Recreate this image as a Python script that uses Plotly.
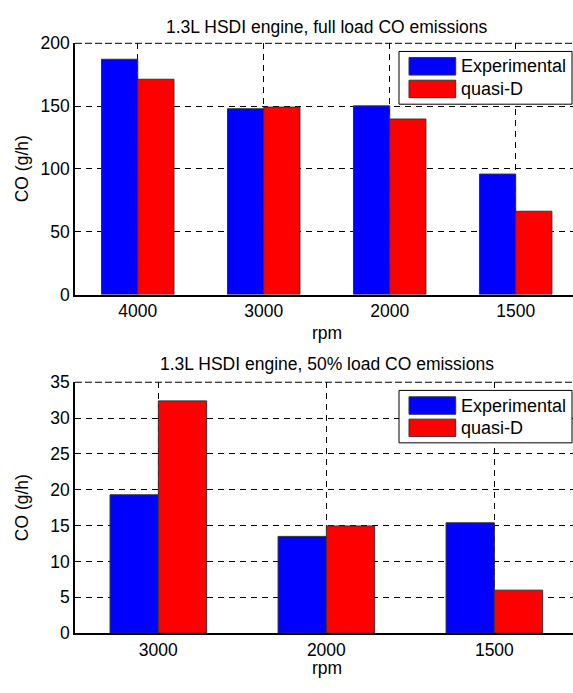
import plotly.graph_objects as go

# ---- data ----
rpm_full = ["4000", "3000", "2000", "1500"]
exp_full = [187.3, 147.9, 150.2, 95.9]
qd_full = [171.4, 149.2, 139.7, 66.3]

rpm_half = ["3000", "2000", "1500"]
exp_half = [19.3, 13.5, 15.4]
qd_half = [32.4, 14.95, 6.0]

series_names = ["Experimental", "quasi-D"]
titles = ["1.3L HSDI engine, full load CO emissions",
          "1.3L HSDI engine, 50% load CO emissions"]

W, H = 573, 693
BLUE, RED = "#0000FF", "#FF0000"
FONT = "Liberation Sans, Arial, sans-serif"
FS = 17.5


def px(x):
    return x / W


def py(y):
    return 1 - y / H


fig = go.Figure()
bar_line = dict(color="#333333", width=1)
fig.add_trace(go.Bar(x=rpm_full, y=exp_full, name=series_names[0], marker=dict(color=BLUE, line=bar_line),
                     xaxis="x", yaxis="y", showlegend=False))
fig.add_trace(go.Bar(x=rpm_full, y=qd_full, name=series_names[1], marker=dict(color=RED, line=bar_line),
                     xaxis="x", yaxis="y", showlegend=False))
fig.add_trace(go.Bar(x=rpm_half, y=exp_half, name=series_names[0], marker=dict(color=BLUE, line=bar_line),
                     xaxis="x2", yaxis="y2", showlegend=False))
fig.add_trace(go.Bar(x=rpm_half, y=qd_half, name=series_names[1], marker=dict(color=RED, line=bar_line),
                     xaxis="x2", yaxis="y2", showlegend=False))

grid = dict(showgrid=True, gridcolor="black", gridwidth=1, griddash="6px,5px")
axfont = dict(family=FONT, size=FS, color="black")

common_x = dict(type="category", showline=True, linecolor="black", linewidth=1.5,
                mirror=False, ticks="", tickfont=axfont, zeroline=False, **grid)
common_y = dict(showline=True, linecolor="black", linewidth=1.5, ticks="",
                tickfont=axfont, zeroline=False, **grid)

fig.update_layout(
    width=W, height=H,
    margin=dict(l=0, r=0, t=0, b=0),
    paper_bgcolor="white", plot_bgcolor="white",
    barmode="group", bargap=0.425, bargroupgap=0,
    font=dict(family=FONT, size=FS, color="black"),
    xaxis=dict(domain=[px(75), 1], anchor="y", range=[-0.498, 3.455], **common_x),
    yaxis=dict(domain=[py(293), py(34.3)], anchor="x", range=[0, 200], dtick=50, **common_y),
    xaxis2=dict(domain=[px(75), 1], anchor="y2", range=[-0.496, 2.468], **common_x),
    yaxis2=dict(domain=[py(641.7), py(383.3)], anchor="x2", range=[0, 35], dtick=5, **common_y),
)

annotations = []
shapes = []
# titles
for t, yc in zip(titles, [17, 365]):
    annotations.append(dict(text=t, x=px(326.5), y=py(yc), xref="paper", yref="paper",
                            showarrow=False, xanchor="center", yanchor="middle",
                            font=dict(family=FONT, size=FS, color="black")))
# axis labels
for yc in [333, 678]:
    annotations.append(dict(text="rpm", x=px(326.5), y=py(yc), xref="paper", yref="paper",
                            showarrow=False, xanchor="center", yanchor="middle",
                            font=dict(family=FONT, size=FS, color="black")))
for yc in [163.5, 512.5]:
    annotations.append(dict(text="CO (g/h)", x=px(21.5), y=py(yc), xref="paper", yref="paper",
                            showarrow=False, xanchor="center", yanchor="middle", textangle=-90,
                            font=dict(family=FONT, size=FS, color="black")))

# top frame lines
for yt in [34.3, 383.3]:
    shapes.append(dict(type="line", xref="paper", yref="paper", x0=px(75), x1=1,
                       y0=py(yt), y1=py(yt), line=dict(color="black", width=1, dash="7px,3px"),
                       layer="above"))

# manual legends
for (top, bot, b1, b2) in [(42.7, 97, 49, 72.3), (391.7, 445.7, 398.3, 421.3)]:
    shapes.append(dict(type="rect", xref="paper", yref="paper", x0=px(399), x1=px(572),
                       y0=py(bot), y1=py(top), line=dict(color="black", width=1),
                       fillcolor="white", layer="above"))
    for yy, col, nm in [(b1, BLUE, series_names[0]), (b2, RED, series_names[1])]:
        shapes.append(dict(type="rect", xref="paper", yref="paper", x0=px(409), x1=px(455.7),
                           y0=py(yy + 18), y1=py(yy), line=dict(color="#333333", width=1),
                           fillcolor=col, layer="above"))
        annotations.append(dict(text=nm, x=px(459), y=py(yy + 9), xref="paper", yref="paper",
                                showarrow=False, xanchor="left", yanchor="middle",
                                font=dict(family=FONT, size=18, color="black")))

fig.update_layout(annotations=annotations, shapes=shapes)
fig.write_html("out.html")
